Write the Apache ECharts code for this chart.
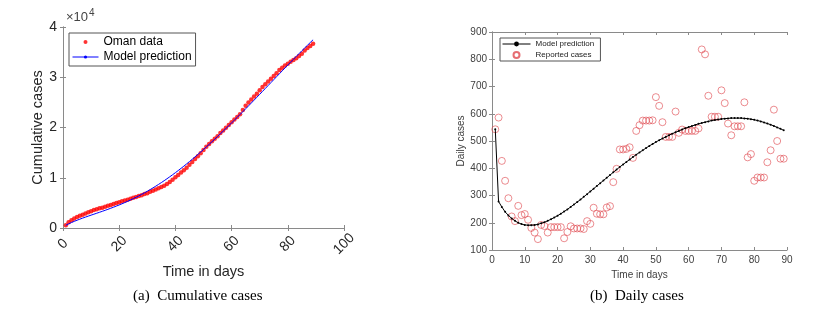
<!DOCTYPE html>
<html>
<head>
<meta charset="utf-8">
<script src="https://cdn.jsdelivr.net/npm/echarts@6/dist/echarts.min.js"></script>
<style>
  html, body { margin: 0; padding: 0; background: #fff; }
  #main { width: 834px; height: 320px; }
</style>
</head>
<body>
<div id="main"></div>
<script>
// daily reported cases, days 1..89
var dailyReported = [543, 586, 427, 354, 290, 223, 206, 262, 228, 232,
  211, 181, 164, 140, 192, 188, 164, 184, 184, 184,
  184, 143, 166, 187, 179, 179, 179, 177, 206, 196,
  255, 233, 231, 231, 256, 261, 349, 398, 469, 469,
  471, 477, 438, 537, 558, 575, 575, 575, 576, 661,
  629, 569, 515, 515, 515, 608, 530, 542, 537, 537,
  537, 537, 546, 836, 818, 666, 589, 589, 589, 686,
  639, 564, 521, 554, 554, 554, 642, 440, 452, 354,
  366, 366, 366, 422, 466, 615, 500, 435, 435];
// daily model prediction
var dailyModel = [543, 278, 258, 240, 227, 216, 207, 200, 195, 192,
  191, 191, 192, 194, 198, 202, 207, 213, 219, 226,
  233, 241, 249, 258, 267, 276, 285, 295, 305, 315,
  325, 335, 345, 355, 365, 375, 385, 395, 405, 414,
  423, 432, 441, 450, 458, 466, 474, 482, 489, 496,
  503, 509, 515, 521, 527, 532, 537, 542, 547, 551,
  555, 559, 563, 566, 569, 572, 575, 577, 579, 581,
  582, 583, 584, 584, 584, 584, 583, 582, 580, 578,
  575, 572, 568, 564, 560, 555, 550, 545, 539];
// cumulative Oman data
var cumReported = [543, 1129, 1556, 1910, 2200, 2423, 2629, 2891, 3119, 3351,
  3562, 3743, 3907, 4047, 4239, 4427, 4591, 4775, 4959, 5143,
  5327, 5470, 5636, 5823, 6002, 6181, 6360, 6537, 6743, 6939,
  7194, 7427, 7658, 7889, 8145, 8406, 8755, 9153, 9622, 10091,
  10562, 11039, 11477, 12014, 12572, 13147, 13722, 14297, 14873, 15534,
  16163, 16732, 17247, 17762, 18277, 18885, 19415, 19957, 20494, 21031,
  21568, 22105, 22651, 23487, 24305, 24971, 25560, 26149, 26738, 27424,
  28063, 28627, 29148, 29702, 30256, 30810, 31452, 31892, 32344, 32698,
  33064, 33430, 33796, 34218, 34684, 35299, 35799, 36234, 36669];
// cumulative model prediction
var cumModel = [543, 821, 1079, 1319, 1546, 1762, 1969, 2169, 2364, 2556,
  2747, 2938, 3130, 3324, 3522, 3724, 3931, 4144, 4363, 4589,
  4822, 5063, 5312, 5570, 5837, 6113, 6398, 6693, 6998, 7313,
  7638, 7973, 8318, 8673, 9038, 9413, 9798, 10193, 10598, 11012,
  11435, 11867, 12308, 12758, 13216, 13682, 14156, 14638, 15127, 15623,
  16126, 16635, 17150, 17671, 18198, 18730, 19267, 19809, 20356, 20907,
  21462, 22021, 22584, 23150, 23719, 24291, 24866, 25443, 26022, 26603,
  27185, 27768, 28352, 28936, 29520, 30104, 30687, 31269, 31849, 32427,
  33002, 33574, 34142, 34706, 35266, 35821, 36371, 36916, 37455];

function pairs(arr) {
  var out = [];
  for (var i = 0; i < arr.length; i++) {
    out.push([i + 1, arr[i]]);
  }
  return out;
}

var boxColor = "#8a8a8a";
var labelColor = "#262626";
var font = "Liberation Sans, Arial, sans-serif";

function frameAxis(gridIndex, pos, min, max, interval) {
  return {
    type: "value",
    gridIndex: gridIndex,
    position: pos,
    min: min,
    max: max,
    interval: interval,
    axisLine: { show: true, lineStyle: { color: boxColor, width: 1 } },
    axisTick: { show: true, inside: true, length: 3, lineStyle: { color: boxColor } },
    axisLabel: { show: false },
    splitLine: { show: false }
  };
}

var myChart = echarts.init(document.getElementById("main"));
var option = {
  backgroundColor: "#fff",
  animation: false,
  textStyle: { fontFamily: font },
  grid: [
    { left: 63, top: 27, width: 281, height: 201 },
    { left: 492, top: 32, width: 295, height: 218 }
  ],
  xAxis: [
    {
      type: "value", gridIndex: 0, position: "bottom",
      min: 0, max: 100, interval: 20,
      axisLine: { show: true, lineStyle: { color: boxColor } },
      axisTick: { inside: true, length: 3, lineStyle: { color: boxColor } },
      axisLabel: {
        rotate: 45, fontSize: 14, color: labelColor, margin: 16, fontFamily: font,
        align: "center", verticalAlign: "middle"
      },
      splitLine: { show: false },
      name: "Time in days", nameLocation: "middle", nameGap: 35,
      nameTextStyle: { fontSize: 14.5, color: labelColor, fontFamily: font }
    },
    frameAxis(0, "top", 0, 100, 20),
    {
      type: "value", gridIndex: 1, position: "bottom",
      min: 0, max: 90, interval: 10,
      axisLine: { show: true, lineStyle: { color: boxColor } },
      axisTick: { inside: true, length: 3, lineStyle: { color: boxColor } },
      axisLabel: { fontSize: 10, color: "#404040", margin: 5, fontFamily: font },
      splitLine: { show: false },
      name: "Time in days", nameLocation: "middle", nameGap: 17,
      nameTextStyle: { fontSize: 10, color: "#404040", fontFamily: font }
    },
    frameAxis(1, "top", 0, 90, 10)
  ],
  yAxis: [
    {
      type: "value", gridIndex: 0, position: "left",
      min: 0, max: 40000, interval: 10000,
      axisLine: { show: true, lineStyle: { color: boxColor } },
      axisTick: { inside: true, length: 3, lineStyle: { color: boxColor } },
      axisLabel: {
        fontSize: 14, color: labelColor, margin: 6, fontFamily: font,
        formatter: function(v) { return v / 10000; }
      },
      splitLine: { show: false },
      name: "Cumulative cases", nameLocation: "middle", nameGap: 16,
      nameTextStyle: { fontSize: 14.5, color: labelColor, fontFamily: font }
    },
    frameAxis(0, "right", 0, 40000, 10000),
    {
      type: "value", gridIndex: 1, position: "left",
      min: 100, max: 900, interval: 100,
      axisLine: { show: true, lineStyle: { color: boxColor } },
      axisTick: { inside: true, length: 3, lineStyle: { color: boxColor } },
      axisLabel: { fontSize: 10, color: "#404040", margin: 5, fontFamily: font },
      splitLine: { show: false },
      name: "Daily cases", nameLocation: "middle", nameGap: 21,
      nameTextStyle: { fontSize: 10, color: "#404040", fontFamily: font }
    },
    frameAxis(1, "right", 100, 900, 100)
  ],
  legend: [
    {
      data: ["Oman data", "Model prediction"],
      orient: "vertical",
      left: 69, top: 33,
      itemWidth: 26, itemHeight: 4, itemGap: 3,
      padding: [3, 4, 3, 3],
      borderColor: "#555", borderWidth: 1, backgroundColor: "#fff",
      lineStyle: { width: 1 },
      textStyle: { fontSize: 12, color: "#000", fontFamily: font }
    },
    {
      data: ["Model prediction ", "Reported cases"],
      orient: "vertical",
      left: 500, top: 38,
      itemWidth: 28, itemHeight: 6, itemGap: 3,
      padding: [2, 4, 2, 2],
      borderColor: "#555", borderWidth: 1, backgroundColor: "#fff",
      lineStyle: { width: 1 },
      textStyle: { fontSize: 8, color: "#222", fontFamily: font }
    }
  ],
  graphic: [
    { type: "text", left: 66, top: 11, style: { text: "×10", fontSize: 13, fill: "#444", fontFamily: font } },
    { type: "text", left: 89, top: 8, style: { text: "4", fontSize: 10, fill: "#444", fontFamily: font } },
    { type: "text", left: 133, top: 289, style: { text: "(a)  Cumulative cases", fontSize: 15, fill: "#000", fontFamily: "Liberation Serif, serif" } },
    { type: "text", left: 590, top: 289, style: { text: "(b)  Daily cases", fontSize: 15, fill: "#000", fontFamily: "Liberation Serif, serif" } }
  ],
  series: [
    {
      name: "Model prediction", type: "line",
      xAxisIndex: 0, yAxisIndex: 0,
      data: pairs(cumModel),
      symbol: "none",
      lineStyle: { color: "#0000ff", width: 1 },
      itemStyle: { color: "#0000ff" }
    },
    {
      name: "Oman data", type: "scatter",
      xAxisIndex: 0, yAxisIndex: 0,
      data: pairs(cumReported),
      symbolSize: 4.5,
      itemStyle: { color: "#ff0000" }
    },
    {
      name: "Model prediction ", type: "line",
      xAxisIndex: 2, yAxisIndex: 2,
      data: pairs(dailyModel),
      symbol: "circle", symbolSize: 2, showSymbol: true,
      lineStyle: { color: "#000", width: 1 },
      itemStyle: { color: "#000" }
    },
    {
      name: "Reported cases", type: "scatter",
      xAxisIndex: 2, yAxisIndex: 2,
      data: pairs(dailyReported),
      symbol: "circle", symbolSize: 7,
      itemStyle: { color: "rgba(255,255,255,0)", borderColor: "#e04a50", borderWidth: 0.8 }
    }
  ]
};
myChart.setOption(option);
</script>
</body>
</html>
